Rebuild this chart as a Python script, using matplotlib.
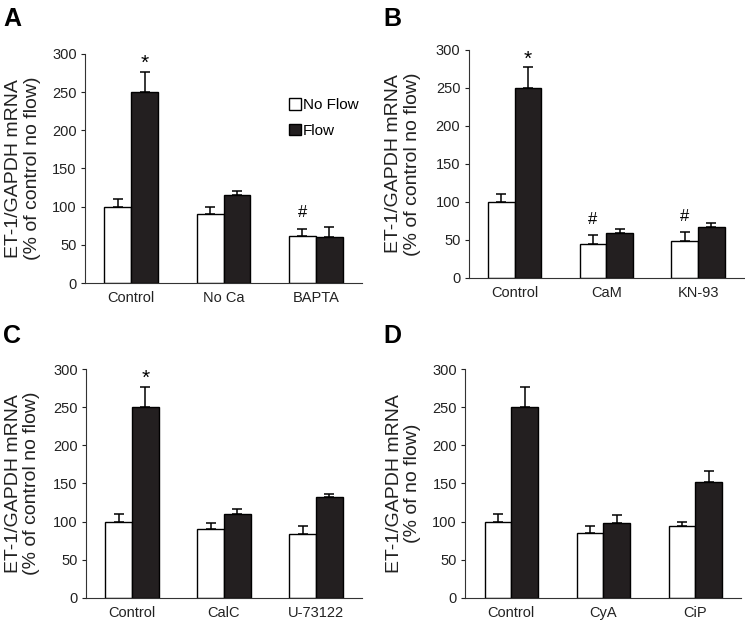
import matplotlib
matplotlib.use('Agg')
from matplotlib import pyplot as plt
import numpy as np

plt.rcParams['font.family'] = ['Liberation Sans', 'DejaVu Sans']

# panel A
a_groups = ['Control', 'No Ca', 'BAPTA']
a_noflow = [100, 91, 61]
a_noflow_err = [10, 9, 10]
a_flow = [250, 115, 60]
a_flow_err = [27, 5, 13]

# panel B
b_groups = ['Control', 'CaM', 'KN-93']
b_noflow = [100, 45, 48]
b_noflow_err = [10, 11, 12]
b_flow = [250, 59, 67]
b_flow_err = [27, 5, 5]

# panel C
c_groups = ['Control', 'CalC', 'U-73122']
c_noflow = [100, 90, 84]
c_noflow_err = [10, 8, 10]
c_flow = [250, 110, 132]
c_flow_err = [27, 6, 4]

# panel D
d_groups = ['Control', 'CyA', 'CiP']
d_noflow = [100, 85, 94]
d_noflow_err = [10, 9, 6]
d_flow = [250, 98, 152]
d_flow_err = [27, 10, 14]

ylab_ctrl = 'ET-1/GAPDH mRNA\n(% of control no flow)'
ylab_d = 'ET-1/GAPDH mRNA\n(% of no flow)'

fig = plt.figure(figsize=(7.45, 6.22), dpi=100)

# [left, bottom, width, height], label x, panel letter position
panels = [
    ('A', [0.1141, 0.545, 0.3718, 0.3682], a_groups, a_noflow, a_noflow_err, a_flow, a_flow_err,
     ylab_ctrl, -0.16, (0.004, 0.988), {'star': [0], 'hash': [2]}),
    ('B', [0.6291, 0.5531, 0.3695, 0.3666], b_groups, b_noflow, b_noflow_err, b_flow, b_flow_err,
     ylab_ctrl, -0.175, (0.514, 0.988), {'star': [0], 'hash': [1, 2]}),
    ('C', [0.1154, 0.0391, 0.3705, 0.3672], c_groups, c_noflow, c_noflow_err, c_flow, c_flow_err,
     ylab_ctrl, -0.165, (0.004, 0.479), {'star': [0], 'hash': []}),
    ('D', [0.6246, 0.0391, 0.3705, 0.3672], d_groups, d_noflow, d_noflow_err, d_flow, d_flow_err,
     ylab_d, -0.16, (0.514, 0.479), {'star': [], 'hash': []}),
]

width = 0.29
for letter, rect, groups, nf, nf_err, fl, fl_err, ylab, labx, lpos, marks in panels:
    ax = fig.add_axes(rect)
    ind = np.arange(len(groups))
    p1 = ax.bar(ind - width / 2, nf, width, color='white', edgecolor='black', linewidth=1.0)
    p2 = ax.bar(ind + width / 2, fl, width, color='#231f20', edgecolor='black', linewidth=1.0)
    ax.errorbar(ind - width / 2, nf, yerr=[np.zeros(len(nf)), nf_err], fmt='none',
                ecolor='black', elinewidth=1.1, capsize=3.5, capthick=1.1)
    ax.errorbar(ind + width / 2, fl, yerr=[np.zeros(len(fl)), fl_err], fmt='none',
                ecolor='black', elinewidth=1.1, capsize=3.5, capthick=1.1)

    for i in marks['star']:
        ax.annotate('*', (ind[i] + width / 2, fl[i] + fl_err[i]), xytext=(0, -1),
                    textcoords='offset points', ha='center', va='bottom', fontsize=15)
    for i in marks['hash']:
        ax.annotate('#', (ind[i] - width / 2, nf[i] + nf_err[i]), xytext=(0, 6),
                    textcoords='offset points', ha='center', va='bottom', fontsize=12)

    ax.set_xlim(-0.5, 2.5)
    ax.set_ylim(0, 300)
    ax.set_yticks(np.arange(0, 301, 50))
    ax.set_xticks(ind)
    ax.set_xticklabels(groups)
    ax.spines['top'].set_visible(False)
    ax.spines['right'].set_visible(False)
    ax.spines['left'].set_color('#333333')
    ax.spines['bottom'].set_color('#333333')
    ax.tick_params(axis='x', length=0, labelsize=10.5, pad=6, colors='#222222')
    ax.tick_params(axis='y', length=3, width=0.8, labelsize=10.5, pad=3, colors='#222222')
    ax.set_ylabel(ylab, fontsize=14, linespacing=1.1, color='#222222')
    ax.yaxis.set_label_coords(labx, 0.5)

    if letter == 'A':
        ax.legend((p1[0], p2[0]), ('No Flow', 'Flow'), loc='upper left',
                  bbox_to_anchor=(0.71, 0.84), frameon=False, fontsize=11,
                  handlelength=0.75, handleheight=0.75, handletextpad=0.15,
                  labelspacing=0.75, borderpad=0)

    fig.text(lpos[0], lpos[1], letter, fontsize=18, fontweight='bold', va='top', ha='left')

fig.savefig('out.png', dpi=100)
